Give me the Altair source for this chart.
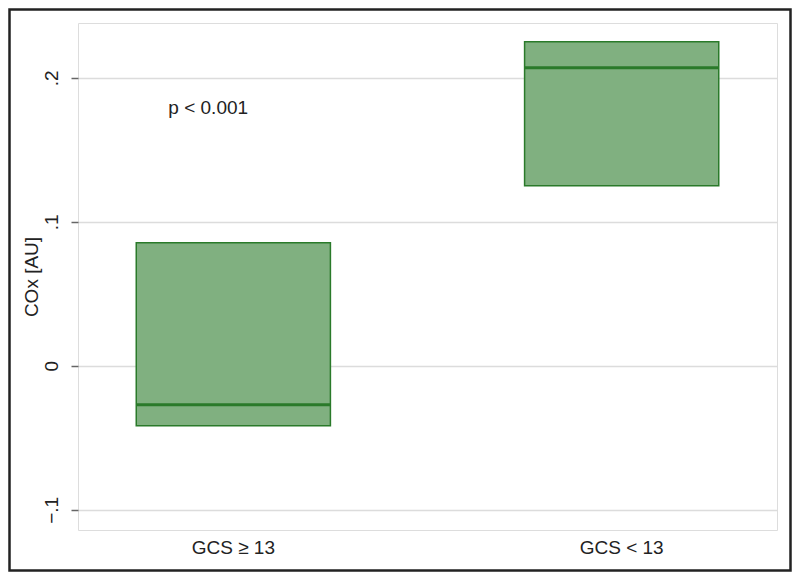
import altair as alt
import pandas as pd

groups = ["GCS ≥ 13", "GCS < 13"]
q1 = [-0.0417, 0.125]
median = [-0.027, 0.207]
q3 = [0.0854, 0.225]
y_ticks = [-0.1, 0, 0.1, 0.2]
annot_group = ["GCS ≥ 13"]
annot_y = [0.179]
annot_text = ["p < 0.001"]

df = pd.DataFrame({"group": groups, "q1": q1, "median": median, "q3": q3})
ann = pd.DataFrame({"group": annot_group, "y": annot_y, "text": annot_text})

W, H = 699, 507
FONT = "Liberation Sans"
FS = 19
FILL = "#80b080"
EDGE = "#2a7a2a"

xscale = alt.Scale(domain=groups, paddingInner=0.5, paddingOuter=0.15)
yscale = alt.Scale(domain=[-0.114, 0.238], nice=False, zero=False)

xaxis = alt.Axis(title=None, labelAngle=0, ticks=False, domain=False, grid=False,
                 labelFontSize=FS, labelPadding=8, labelColor="#222", labelFont=FONT)
yaxis = alt.Axis(values=y_ticks,
                 labelExpr="datum.value == 0 ? '0' : replace(format(datum.value, '.1f'), '0.', '.')",
                 title="COx [AU]", titleFontSize=FS, titleFontWeight="normal", titleColor="#222",
                 titleFont=FONT, titlePadding=1,
                 labelAngle=270, labelAlign="center", labelBaseline="bottom",
                 labelFontSize=FS, labelFont=FONT, labelColor="#222", labelPadding=10,
                 domain=False, tickColor="#666", tickSize=7, tickWidth=1.5,
                 grid=True, gridColor="#dcdcdc", gridWidth=1.5)

boxes = alt.Chart(df).mark_bar(fill=FILL, stroke=EDGE, strokeWidth=1.5).encode(
    x=alt.X("group:N", scale=xscale, sort=groups, axis=xaxis),
    y=alt.Y("q3:Q", scale=yscale, axis=yaxis),
    y2="q1:Q",
)

med = alt.Chart(df).mark_bar(fill=EDGE, stroke=EDGE, strokeWidth=3).encode(
    x=alt.X("group:N", scale=xscale, sort=groups),
    y=alt.Y("median:Q", scale=yscale),
    y2="median:Q",
)

txt = alt.Chart(ann).mark_text(align="left", baseline="middle", dx=-65, fontSize=FS,
                               font=FONT, color="#222").encode(
    x=alt.X("group:N", scale=xscale, sort=groups),
    y=alt.Y("y:Q", scale=yscale),
    text="text:N",
)

frame = alt.Chart(alt.Data(values=[{}])).mark_rect(filled=False, stroke="#222", strokeWidth=2.5).encode(
    x=alt.value(-68.5), x2=alt.value(W + 13.5),
    y=alt.value(-13.5), y2=alt.value(H + 40.5),
)

chart = alt.layer(boxes, med, txt, frame).properties(
    width=W, height=H,
    autosize=alt.AutoSizeParams(type="none"),
    padding={"left": 70, "top": 15, "right": 15, "bottom": 42},
).configure_view(stroke="#555", strokeWidth=2).configure(background="white")

chart.save("out.html", embed_options={"renderer": "svg", "actions": False})
